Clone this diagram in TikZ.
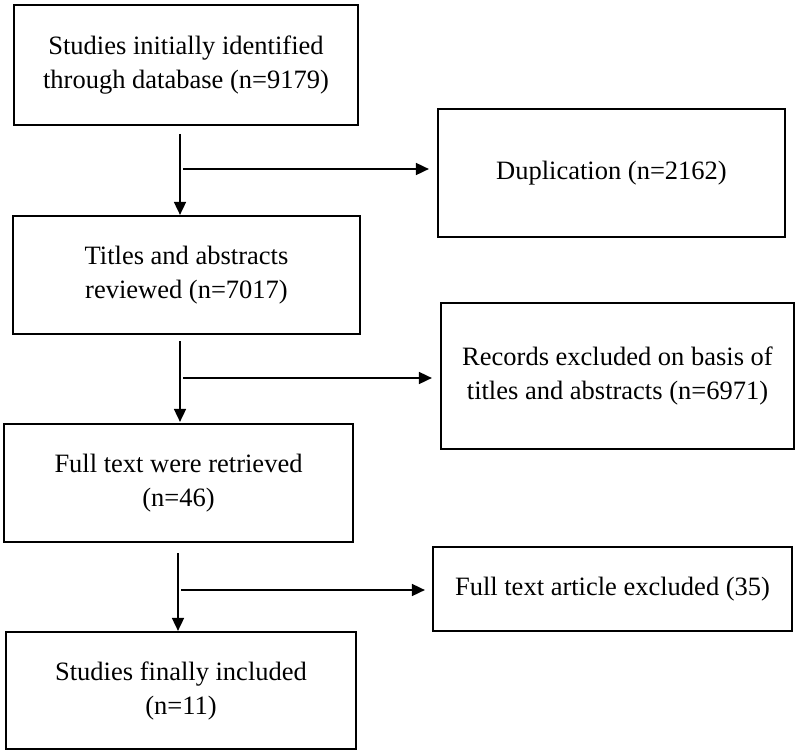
\documentclass[tikz,border=0pt]{standalone}
\usepackage{fontspec}
\setmainfont{Liberation Serif}
\usetikzlibrary{arrows.meta,calc}
\begin{document}
\begin{tikzpicture}[x=1pt,y=-1pt,
  box/.style={draw=black,line width=2.2pt,inner sep=0pt,align=center,font=\fontsize{26.5}{34}\selectfont},
  arr/.style={line width=1.7pt,-{Triangle[length=13pt,width=12pt]}}]
\useasboundingbox (0,0) rectangle (800,754);
\fill[white] (0,0) rectangle (800,754);
% main column
\node[box,minimum width=344pt,minimum height=120pt] (b1) at (186,65) {Studies initially identified\\through database (n=9179)};
\node[box,minimum width=347pt,minimum height=118pt] (b2) at (186.5,275) {Titles and abstracts\\reviewed (n=7017)};
\node[box,minimum width=349pt,minimum height=118pt] (b3) at (178.5,483) {Full text were retrieved\\(n=46)};
\node[box,minimum width=350pt,minimum height=117pt] (b4) at (181,690.5) {Studies finally included\\(n=11)};
% side column
\node[box,minimum width=347pt,minimum height=128pt] (dup) at (611.5,173) {Duplication (n=2162)};
\node[box,minimum width=353pt,minimum height=146pt] (rec) at (617.5,376) {Records excluded on basis of\\titles and abstracts (n=6971)};
\node[box,minimum width=359pt,minimum height=84pt] (ft) at (612.5,589) {Full text article excluded (35)};
% connectors
\coordinate (s1) at (180,134);
\coordinate (h1) at (183,169);
\draw[arr] (s1) -- (s1 |- b2.north);
\draw[arr] (h1) -- ([xshift=-8pt]dup.west |- h1);
\coordinate (s2) at (180,341);
\coordinate (h2) at (183,378);
\draw[arr] (s2) -- ([yshift=1pt]s2 |- b3.north);
\draw[arr] (h2) -- ([xshift=-8pt]rec.west |- h2);
\coordinate (s3) at (178,553);
\coordinate (h3) at (181,590);
\draw[arr] (s3) -- (s3 |- b4.north);
\draw[arr] (h3) -- ([xshift=-7pt]ft.west |- h3);
\end{tikzpicture}
\end{document}
